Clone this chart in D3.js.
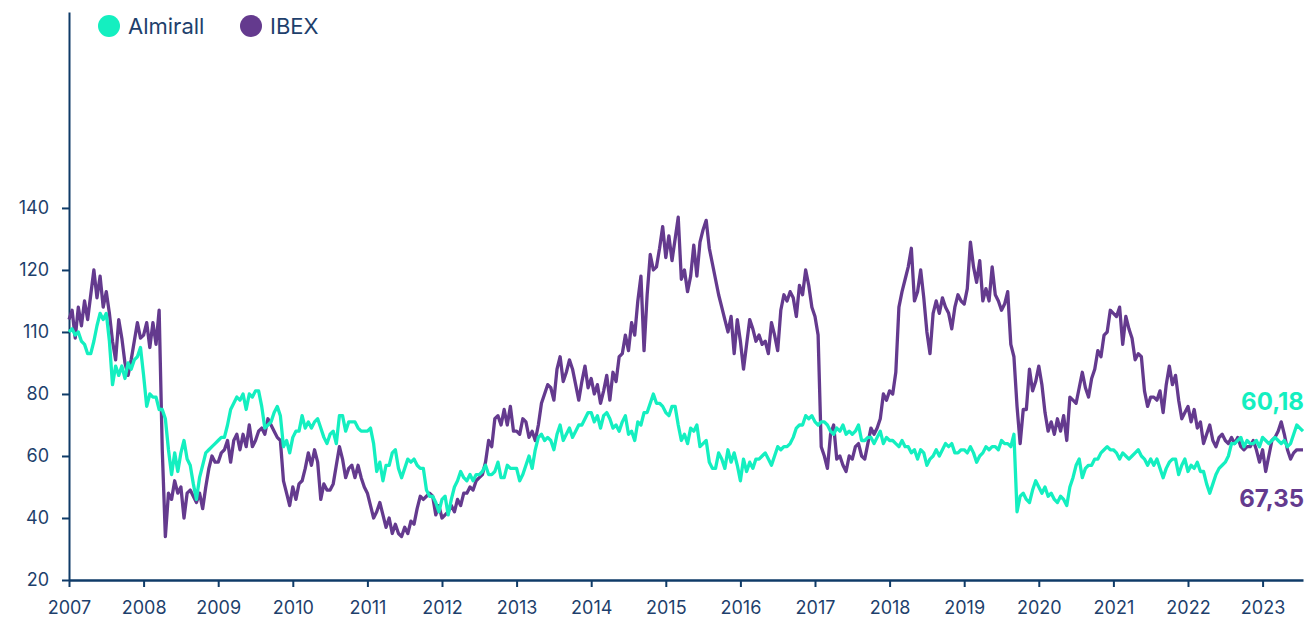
<!DOCTYPE html>
<html>
<head>
<meta charset="utf-8">
<script src="https://cdn.jsdelivr.net/npm/d3@7"></script>
<style>
  html, body { margin: 0; padding: 0; background: #ffffff; }
  svg { display: block; font-family: Inter, "Noto Sans", sans-serif; }
</style>
</head>
<body>
<svg id="chart" width="1307" height="624"></svg>
<script>
// ---- data (semi-monthly samples starting January 2007) ----
const startYear = 2007;
const stepsPerYear = 24;
const seriesNames = ["Almirall", "IBEX"];
const endLabels = ["60,18", "67,35"];
const yTickValues = [20, 40, 60, 80, 100, 120, 140];
const yTickLabels = ["20", "40", "60", "80", "110", "120", "140"];
const xTickYears = [2007, 2008, 2009, 2010, 2011, 2012, 2013, 2014, 2015, 2016, 2017, 2018, 2019, 2020, 2021, 2022, 2023];

const almirall = [
  100, 101, 99, 100, 97, 96, 93, 93, 97, 102, 106, 104, 106, 97, 83, 89, 86, 89, 85, 90, 88, 91, 92, 95,
  86, 76, 80, 79, 79, 75, 75, 72, 62, 54, 61, 55, 61, 65, 59, 57, 51, 46, 53, 57, 61, 62, 63, 64,
  65, 66, 66, 70, 75, 77, 79, 78, 80, 75, 80, 79, 81, 81, 76, 69, 70, 71, 74, 76, 73, 63, 65, 61,
  66, 68, 68, 73, 69, 71, 69, 71, 72, 69, 66, 64, 67, 68, 64, 73, 73, 68, 71, 71, 71, 69, 68, 68,
  68, 69, 64, 55, 58, 52, 57, 57, 61, 62, 56, 53, 56, 59, 58, 59, 57, 56, 56, 49, 47, 47, 45, 42,
  46, 47, 41, 46, 50, 52, 55, 53, 52, 54, 52, 54, 54, 55, 57, 54, 54, 55, 58, 53, 53, 57, 56, 56,
  56, 52, 54, 57, 60, 56, 62, 66, 67, 65, 66, 65, 62, 67, 70, 65, 67, 69, 66, 68, 70, 70, 72, 74,
  74, 71, 73, 69, 73, 74, 72, 69, 70, 68, 71, 73, 67, 68, 65, 71, 70, 74, 74, 77, 80, 77, 77, 76,
  74, 73, 76, 76, 70, 65, 67, 64, 69, 68, 70, 63, 64, 65, 58, 56, 56, 61, 59, 56, 62, 58, 61, 57,
  52, 59, 55, 58, 56, 59, 59, 60, 61, 59, 57, 60, 63, 62, 63, 63, 64, 66, 69, 70, 70, 73, 72, 73,
  71, 70, 71, 71, 70, 68, 67, 69, 68, 70, 67, 68, 67, 68, 70, 65, 65, 66, 66, 64, 66, 68, 64, 66,
  65, 65, 64, 63, 65, 63, 63, 61, 62, 59, 62, 61, 57, 59, 60, 62, 60, 62, 64, 63, 64, 61, 61, 62,
  62, 61, 63, 61, 58, 60, 61, 63, 62, 63, 63, 62, 65, 64, 64, 63, 67, 42, 47, 48, 46, 45, 49, 52,
  50, 48, 50, 47, 48, 46, 45, 47, 46, 44, 50, 53, 57, 59, 53, 56, 57, 57, 59, 59, 61, 62, 63, 62,
  62, 61, 59, 61, 60, 59, 60, 61, 62, 60, 59, 57, 59, 57, 59, 56, 53, 56, 58, 59, 59, 54, 57, 59,
  55, 57, 56, 58, 55, 55, 51, 48, 51, 54, 56, 57, 58, 60, 64, 64, 65, 66, 63, 65, 64, 64, 65, 63,
  66, 65, 64, 65, 66, 65, 64, 65, 63, 64, 67, 70, 69, 68
];

const ibex = [
  104, 107, 98, 108, 102, 110, 104, 112, 120, 111, 118, 108, 113, 106, 97, 91, 104, 98, 90, 86, 91, 97, 103, 98,
  99, 103, 95, 103, 96, 107, 62, 34, 48, 46, 52, 48, 50, 40, 48, 49, 47, 45, 48, 43, 50, 56, 60, 58,
  58, 61, 62, 65, 58, 65, 67, 62, 67, 63, 70, 63, 65, 68, 69, 67, 72, 70, 68, 66, 65, 52, 48, 44,
  50, 46, 51, 52, 56, 61, 57, 62, 58, 46, 51, 49, 49, 51, 57, 63, 59, 53, 56, 57, 53, 57, 53, 50,
  48, 44, 40, 42, 45, 41, 37, 40, 35, 38, 35, 34, 37, 35, 39, 38, 43, 47, 46, 47, 48, 47, 41, 44,
  40, 41, 42, 44, 42, 46, 44, 48, 48, 50, 49, 52, 53, 54, 58, 65, 63, 72, 73, 70, 75, 70, 76, 68,
  68, 67, 72, 71, 66, 68, 65, 70, 77, 80, 83, 82, 78, 88, 92, 84, 87, 91, 88, 83, 78, 84, 89, 82,
  85, 80, 83, 77, 81, 86, 78, 87, 84, 92, 93, 99, 94, 103, 99, 110, 118, 94, 112, 125, 120, 121, 127, 134,
  124, 131, 123, 130, 137, 117, 120, 113, 118, 128, 118, 129, 133, 136, 127, 122, 117, 112, 108, 104, 100, 105, 93, 104,
  97, 88, 96, 104, 101, 97, 99, 96, 97, 93, 103, 99, 94, 107, 112, 110, 113, 111, 105, 115, 112, 120, 115, 108,
  105, 99, 63, 60, 56, 67, 70, 59, 60, 57, 55, 60, 59, 63, 64, 60, 59, 64, 69, 67, 69, 72, 80, 78,
  81, 80, 87, 108, 113, 117, 121, 127, 110, 113, 120, 111, 100, 93, 106, 110, 106, 111, 108, 106, 101, 108, 112, 110,
  109, 114, 129, 121, 116, 123, 110, 114, 110, 121, 112, 110, 107, 109, 113, 96, 92, 76, 64, 75, 75, 88, 81, 84,
  89, 83, 74, 68, 71, 67, 72, 68, 73, 65, 79, 78, 77, 82, 87, 82, 79, 85, 88, 94, 92, 99, 100, 107,
  106, 105, 108, 96, 105, 101, 98, 91, 93, 92, 81, 76, 79, 79, 78, 81, 74, 83, 89, 83, 86, 78, 72, 74,
  76, 71, 75, 69, 71, 64, 67, 70, 65, 63, 66, 67, 65, 64, 66, 64, 66, 63, 62, 63, 63, 65, 62, 58,
  62, 55, 60, 65, 66, 68, 71, 67, 62, 59, 61, 62, 62, 62
];

// ---- styles ----
const GREEN = "#14EFC0";
const PURPLE = "#643A8E";
const NAVY = "#0F3B68";
const TEXT = "#1E3F6C";

const svg = d3.select("#chart");
const lastT = startYear + (ibex.length - 1) / stepsPerYear;

const x = d3.scaleLinear().domain([startYear, lastT]).range([69, 1303]);
const y = d3.scaleLinear().domain([20, 203.2]).range([580, 12]);

const toPoints = arr => arr.map((v, i) => ({ t: startYear + i / stepsPerYear, v }));

// axes
const yAxis = d3.axisLeft(y).tickValues(yTickValues)
  .tickFormat((d, i) => yTickLabels[i]).tickSize(7).tickSizeOuter(0).tickPadding(13);
const gy = svg.append("g").attr("transform", "translate(69,0)").call(yAxis);
gy.select(".domain").attr("stroke", NAVY).attr("stroke-width", 2);
gy.selectAll(".tick line").attr("stroke", NAVY).attr("stroke-width", 2);
gy.selectAll(".tick text").attr("fill", TEXT).style("font-size", "18px").style("font-family", "Inter, sans-serif");

const xAxis = d3.axisBottom(x).tickValues(xTickYears).tickFormat(d3.format("d"))
  .tickSize(7).tickSizeOuter(0).tickPadding(14);
const gx = svg.append("g").attr("transform", "translate(0,580)").call(xAxis);
gx.select(".domain").attr("stroke", NAVY).attr("stroke-width", 2.5);
gx.selectAll(".tick line").attr("stroke", NAVY).attr("stroke-width", 2);
gx.selectAll(".tick text").attr("fill", TEXT).style("font-size", "18px").style("font-family", "Inter, sans-serif");

// lines
const line = d3.line().x(d => x(d.t)).y(d => y(d.v)).curve(d3.curveLinear);
svg.append("path").datum(toPoints(ibex))
  .attr("fill", "none").attr("stroke", PURPLE).attr("stroke-width", 3.3)
  .attr("stroke-linejoin", "round").attr("d", line);
svg.append("path").datum(toPoints(almirall))
  .attr("fill", "none").attr("stroke", GREEN).attr("stroke-width", 3.3)
  .attr("stroke-linejoin", "round").attr("d", line);

// legend
const legend = [
  { name: seriesNames[0], color: GREEN, cx: 109 },
  { name: seriesNames[1], color: PURPLE, cx: 251 }
];
const lg = svg.append("g");
legend.forEach(l => {
  lg.append("circle").attr("cx", l.cx).attr("cy", 26).attr("r", 11).attr("fill", l.color);
  lg.append("text").attr("x", l.cx + 19).attr("y", 34).text(l.name)
    .attr("fill", TEXT).style("font-size", "22px").style("font-family", "Inter, sans-serif");
});

// end labels
svg.append("text").attr("x", 1304).attr("y", 410).attr("text-anchor", "end")
  .text(endLabels[0]).attr("fill", GREEN)
  .style("font-size", "24px").style("font-weight", "700");
svg.append("text").attr("x", 1304).attr("y", 507).attr("text-anchor", "end")
  .text(endLabels[1]).attr("fill", PURPLE)
  .style("font-size", "24px").style("font-weight", "700");
</script>
</body>
</html>
